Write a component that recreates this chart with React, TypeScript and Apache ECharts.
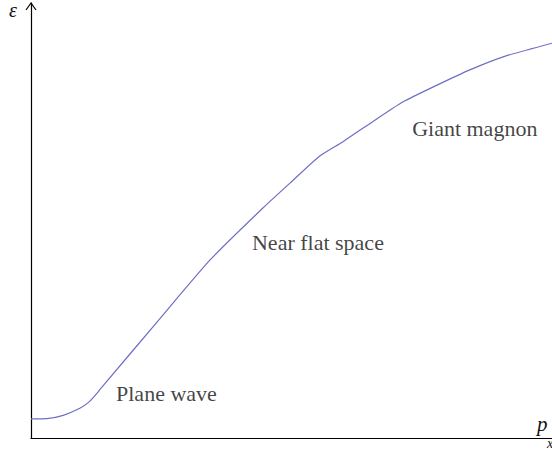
import { useEffect, useRef } from "react";
import * as echarts from "echarts";

// momentum p (x) and energy ε (y) along the dispersion curve
const pValues = [0, 0.3, 0.62, 0.94, 1.1, 1.23, 1.36, 2.48, 3.44, 4.46, 5.04, 5.56, 6.0, 6.62, 7.15, 7.81, 8.44, 9.08, 10.02];
const energyValues = [0.35, 0.355, 0.417, 0.546, 0.65, 0.78, 0.93, 2.196, 3.27, 4.23, 4.74, 5.19, 5.45, 5.85, 6.18, 6.49, 6.77, 7.01, 7.26];

// region annotations
const regionNames = ["Plane wave", "Near flat space", "Giant magnon"];
const regionP = [1.635, 4.25, 7.33];
const regionEnergy = [0.81, 3.59, 5.7];

const FONT = "'Liberation Serif', 'DejaVu Serif', serif";

export default function App() {
  const ref = useRef<HTMLDivElement>(null);

  useEffect(() => {
    if (!ref.current) return;
    const chart = echarts.init(ref.current, undefined, { renderer: "svg" });
    const curve = pValues.map((p, i) => [p, energyValues[i]]);
    const labels = regionNames.map((n, i) => ({ name: n, value: [regionP[i], regionEnergy[i]] }));

    chart.setOption({
      animation: false,
      backgroundColor: "#ffffff",
      grid: { left: 31, right: 0, top: 3, bottom: 13, containLabel: false },
      xAxis: {
        type: "value",
        min: 0,
        max: 10.02,
        axisLine: { show: true, onZero: false, lineStyle: { color: "#000", width: 1.2 } },
        axisTick: { show: false },
        axisLabel: { show: false },
        splitLine: { show: false },
      },
      yAxis: {
        type: "value",
        min: 0,
        max: 8,
        axisLine: { show: true, onZero: false, lineStyle: { color: "#000", width: 1.2 } },
        axisTick: { show: false },
        axisLabel: { show: false },
        splitLine: { show: false },
      },
      series: [
        {
          type: "line",
          data: curve,
          smooth: 0.2,
          showSymbol: false,
          symbol: "none",
          lineStyle: { color: "#6e6ec4", width: 1.2 },
          silent: true,
        },
        {
          type: "scatter",
          data: labels,
          symbolSize: 0,
          silent: true,
          label: {
            show: true,
            position: "right",
            distance: 0,
            formatter: "{b}",
            fontFamily: FONT,
            fontSize: 22,
            color: "#111",
          },
        },
      ],
      graphic: [
        {
          type: "polyline",
          shape: { points: [[26, 10], [31, 3], [36, 10]] },
          style: { stroke: "#000", lineWidth: 1.2, fill: "none" },
          silent: true,
        },
        {
          type: "text",
          left: 9,
          top: 0,
          style: { text: "ε", font: `italic 20px ${FONT}`, lineHeight: 12, fill: "#111" },
          silent: true,
        },
        {
          type: "text",
          left: 537,
          top: 413,
          style: { text: "p", font: `italic 21px ${FONT}`, fill: "#111" },
          silent: true,
        },
        {
          type: "text",
          left: 547,
          top: 436,
          style: { text: "x", font: `italic 14px ${FONT}`, fill: "#111" },
          silent: true,
        },
      ],
    });
    return () => chart.dispose();
  }, []);

  return (
    <div
      ref={ref}
      style={{ position: "fixed", left: 0, top: 0, width: 552, height: 451, background: "#fff" }}
    />
  );
}
